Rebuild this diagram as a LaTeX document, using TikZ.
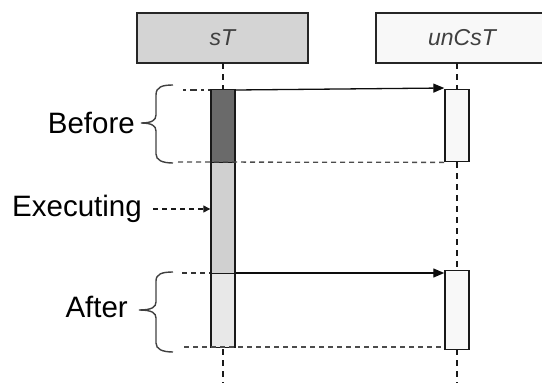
\documentclass[tikz,border=0pt]{standalone}
\usepackage{fontspec}
\setmainfont{Liberation Sans}
\usetikzlibrary{arrows.meta}
\newcommand{\hdrfont}{\fontsize{23}{27}\selectfont\itshape}
\newcommand{\lblfont}{\fontsize{29.5}{34}\selectfont}
\definecolor{hdrgray}{HTML}{D4D4D4}
\definecolor{hdrwhite}{HTML}{F8F8F8}
\definecolor{actdark}{HTML}{6A6A6A}
\definecolor{actmid}{HTML}{D0D0D0}
\definecolor{actlight}{HTML}{E8E8E8}
\definecolor{actwhite}{HTML}{F8F8F8}
\tikzset{
  hdr/.style={draw=black!85, line width=1.3pt, minimum height=50pt, inner sep=0pt,
    font=\hdrfont, text=black!75},
  act/.style={draw=black!90, line width=1.4pt, minimum width=24pt, inner sep=0pt},
  life/.style={black!90, line width=1.2pt, dash pattern=on 6pt off 5pt},
  ret/.style={black!70, line width=1.3pt, dash pattern=on 5pt off 4pt},
  guide/.style={black!80, line width=1.3pt, dash pattern=on 5pt off 4pt},
  guidedot/.style={black!80, line width=1.3pt, dash pattern=on 3pt off 4pt on 7pt off 4pt},
  msg/.style={black!95, line width=1.3pt, -{Triangle[length=11pt,width=9pt]}},
  cue/.style={black!90, line width=1.3pt, dash pattern=on 5pt off 4pt,
    -{Triangle[length=7pt,width=7pt]}},
  brc/.style={black!75, line width=1.4pt},
  lbl/.style={font=\lblfont, inner sep=0pt, text=black}
}
\begin{document}
\begin{tikzpicture}[x=1pt,y=-1pt]
\useasboundingbox (0,0) rectangle (542,383);

% lifeline heads
\node[hdr, fill=hdrgray, minimum width=171pt] (sT) at (222.5,38) {sT};
\node[hdr, fill=hdrwhite, minimum width=172pt] (uT) at (462,38) {unCsT};

% lifelines
\coordinate (sTend) at (223,383);
\coordinate (uTend) at (457,383);
\draw[life] (223,63) -- (sTend);
\draw[life] (457,63) -- (uTend);

% activations of sT: before, executing, after
\node[act, fill=actdark,  minimum height=73pt, anchor=north] (b1) at (223,89) {};
\node[act, fill=actmid,   minimum height=111pt, anchor=north] (b2) at (223,162) {};
\node[act, fill=actlight, minimum height=74pt, anchor=north] (b3) at (223,273) {};

% activations of unCsT
\node[act, fill=actwhite, minimum height=72pt, anchor=north] (u1) at (457,89) {};
\node[act, fill=actwhite, minimum height=79pt, anchor=north] (u2) at (457,270) {};

% guide lines of the phases
\coordinate (g1) at (183,90);
\coordinate (g2) at (178,162);
\coordinate (g3) at (182,273);
\coordinate (g4) at (184,347);
\draw[guidedot] (g1) -- (b1.north west |- g1);
\draw[ret] (g2) -- (u1.south west);
\draw[guide] (g3) -- (b3.north west);
\draw[ret] (g4) -- (u2.south west |- g4);

% messages
\draw[msg] (b1.north east) ++(0,1) -- ([yshift=1pt]u1.north west);
\draw[msg] (b3.north east) -- (u2.north west |- b3.north east);

% labels
\node[lbl, anchor=east] (before) at (135,123) {Before};
\node[lbl, anchor=east] (exec) at (142,209) {Executing};
\node[lbl, anchor=east] (after) at (128,307) {After};

\draw[cue] ([xshift=11pt]exec.east) -- (exec.east -| b2.west);

% braces
\draw[brc] (173,85) .. controls (162,85) and (156,87) .. (156,95) -- (156,115)
  .. controls (156,120) and (152,123) .. (141,123)
  .. controls (152,123) and (156,126) .. (156,131) -- (156,154)
  .. controls (156,160) and (162,163) .. (173,163);
\draw[brc] (173,272) .. controls (162,272) and (156,274) .. (156,281) -- (156,302)
  .. controls (156,307) and (152,310) .. (139,310)
  .. controls (152,310) and (156,313) .. (156,318) -- (156,343)
  .. controls (156,349) and (162,352) .. (173,352);
\end{tikzpicture}
\end{document}
